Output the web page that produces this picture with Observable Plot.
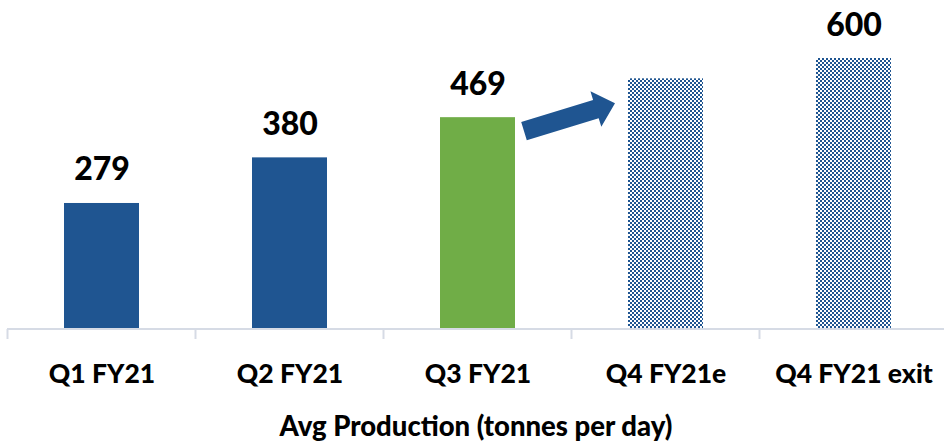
<!DOCTYPE html>
<html>
<head>
<meta charset="utf-8">
<script src="https://cdn.jsdelivr.net/npm/d3@7"></script>
<script src="https://cdn.jsdelivr.net/npm/@observablehq/plot@0.6"></script>
<style>
  html, body { margin: 0; padding: 0; background: #ffffff; }
  #chart svg { display: block; font-family: Lato, "Open Sans", sans-serif; }
</style>
</head>
<body>
<div id="chart"></div>
<script>
// ---- data ----
const categories = ["Q1 FY21", "Q2 FY21", "Q3 FY21", "Q4 FY21e", "Q4 FY21 exit"];
const values = [279, 380, 469, 555, 600];
const valueLabels = ["279", "380", "469", "", "600"];
const kinds = ["actual", "actual", "current", "forecast", "forecast"];
const axisTitle = "Avg Production (tonnes per day)";
// arrow from Q3 towards Q4e (values in tonnes/day)
const arrowFrom = {cat: "Q3 FY21", value: 438};
const arrowTo = {cat: "Q4 FY21e", value: 500};

const BLUE = "#1f5591";
const GREEN = "#70ad47";
const AXIS = "#d6dbe5";

const rows = categories.map((c, i) => ({cat: c, value: values[i], label: valueLabels[i], kind: kinds[i]}));
const fillFor = k => k === "current" ? GREEN : k === "forecast" ? "url(#checker)" : BLUE;

// defs with checker pattern
function defsMark() {
  const ns = "http://www.w3.org/2000/svg";
  const g = document.createElementNS(ns, "g");
  const defs = document.createElementNS(ns, "defs");
  const pat = document.createElementNS(ns, "pattern");
  pat.setAttribute("id", "checker");
  pat.setAttribute("patternUnits", "userSpaceOnUse");
  pat.setAttribute("width", 4);
  pat.setAttribute("height", 4);
  const bg = document.createElementNS(ns, "rect");
  bg.setAttribute("width", 4); bg.setAttribute("height", 4); bg.setAttribute("fill", "#ffffff");
  pat.appendChild(bg);
  for (const [x, y] of [[0, 0], [2, 2]]) {
    const r = document.createElementNS(ns, "rect");
    r.setAttribute("x", x); r.setAttribute("y", y);
    r.setAttribute("width", 2); r.setAttribute("height", 2);
    r.setAttribute("fill", BLUE);
    pat.appendChild(r);
  }
  defs.appendChild(pat);
  g.appendChild(defs);
  return g;
}

// axis line with category boundary ticks + block arrow, positioned via scales
function overlayMark(index, scales, values, dimensions) {
  const ns = "http://www.w3.org/2000/svg";
  const sx = scales.x, sy = scales.y;
  const bw = typeof sx.bandwidth === "function" ? sx.bandwidth() : scales.scales.x.bandwidth;
  const step = typeof sx.step === "function" ? sx.step() : scales.scales.x.step;
  const g = document.createElementNS(ns, "g");
  const y0 = sy(0);
  // axis baseline
  const line = document.createElementNS(ns, "line");
  line.setAttribute("x1", dimensions.marginLeft);
  line.setAttribute("x2", dimensions.width - dimensions.marginRight);
  line.setAttribute("y1", y0); line.setAttribute("y2", y0);
  line.setAttribute("stroke", AXIS); line.setAttribute("stroke-width", 2);
  g.appendChild(line);
  // boundary ticks
  const pad = (step - bw) / 2;
  const bounds = categories.map(c => sx(c) - pad).concat([sx(categories[categories.length - 1]) + bw + pad]);
  for (const bx of bounds) {
    const t = document.createElementNS(ns, "line");
    t.setAttribute("x1", bx); t.setAttribute("x2", bx);
    t.setAttribute("y1", y0); t.setAttribute("y2", y0 + 10);
    t.setAttribute("stroke", AXIS); t.setAttribute("stroke-width", 2);
    g.appendChild(t);
  }
  // block arrow
  const tx = sx(arrowFrom.cat) + bw + 9, ty = sy(arrowFrom.value);
  const px = sx(arrowTo.cat) - 13, py = sy(arrowTo.value);
  const L = Math.hypot(px - tx, py - ty);
  const ux = (px - tx) / L, uy = (py - ty) / L;
  const nx = -uy, ny = ux;
  const hs = 9.5, hh = 18.5, hl = 20;
  const bx = px - ux * hl, by = py - uy * hl;
  const pts = [
    [tx + nx * hs, ty + ny * hs],
    [bx + nx * hs, by + ny * hs],
    [bx + nx * hh, by + ny * hh],
    [px, py],
    [bx - nx * hh, by - ny * hh],
    [bx - nx * hs, by - ny * hs],
    [tx - nx * hs, ty - ny * hs]
  ];
  const poly = document.createElementNS(ns, "polygon");
  poly.setAttribute("points", pts.map(p => p.join(",")).join(" "));
  poly.setAttribute("fill", BLUE);
  g.appendChild(poly);
  return g;
}

const chart = Plot.plot({
  width: 944,
  height: 442,
  marginTop: 0,
  marginLeft: 7,
  marginRight: 0,
  marginBottom: 113,
  x: {domain: categories, range: [8, 948], paddingInner: 0.6, paddingOuter: 0.3, axis: null},
  y: {domain: [0, 600], range: [329, 58], axis: null},
  marks: [
    defsMark,
    Plot.barY(rows, {x: "cat", y: "value", fill: d => fillFor(d.kind)}),
    overlayMark,
    Plot.text(rows.filter(d => d.label), {
      x: "cat", y: "value", text: "label", dy: -23, lineAnchor: "bottom",
      fontSize: 32, fontWeight: 900, fill: "#000"
    }),
    Plot.text(rows, {
      x: "cat", text: "cat", frameAnchor: "bottom", dy: 53, lineAnchor: "bottom",
      fontSize: 26.5, fontWeight: 900, fill: "#000"
    }),
    Plot.text([axisTitle], {
      text: d => d, frameAnchor: "bottom", dy: 106, lineAnchor: "bottom",
      fontSize: 27.5, fontWeight: 900, fill: "#000"
    })
  ]
});
document.getElementById("chart").appendChild(chart);
</script>
</body>
</html>
